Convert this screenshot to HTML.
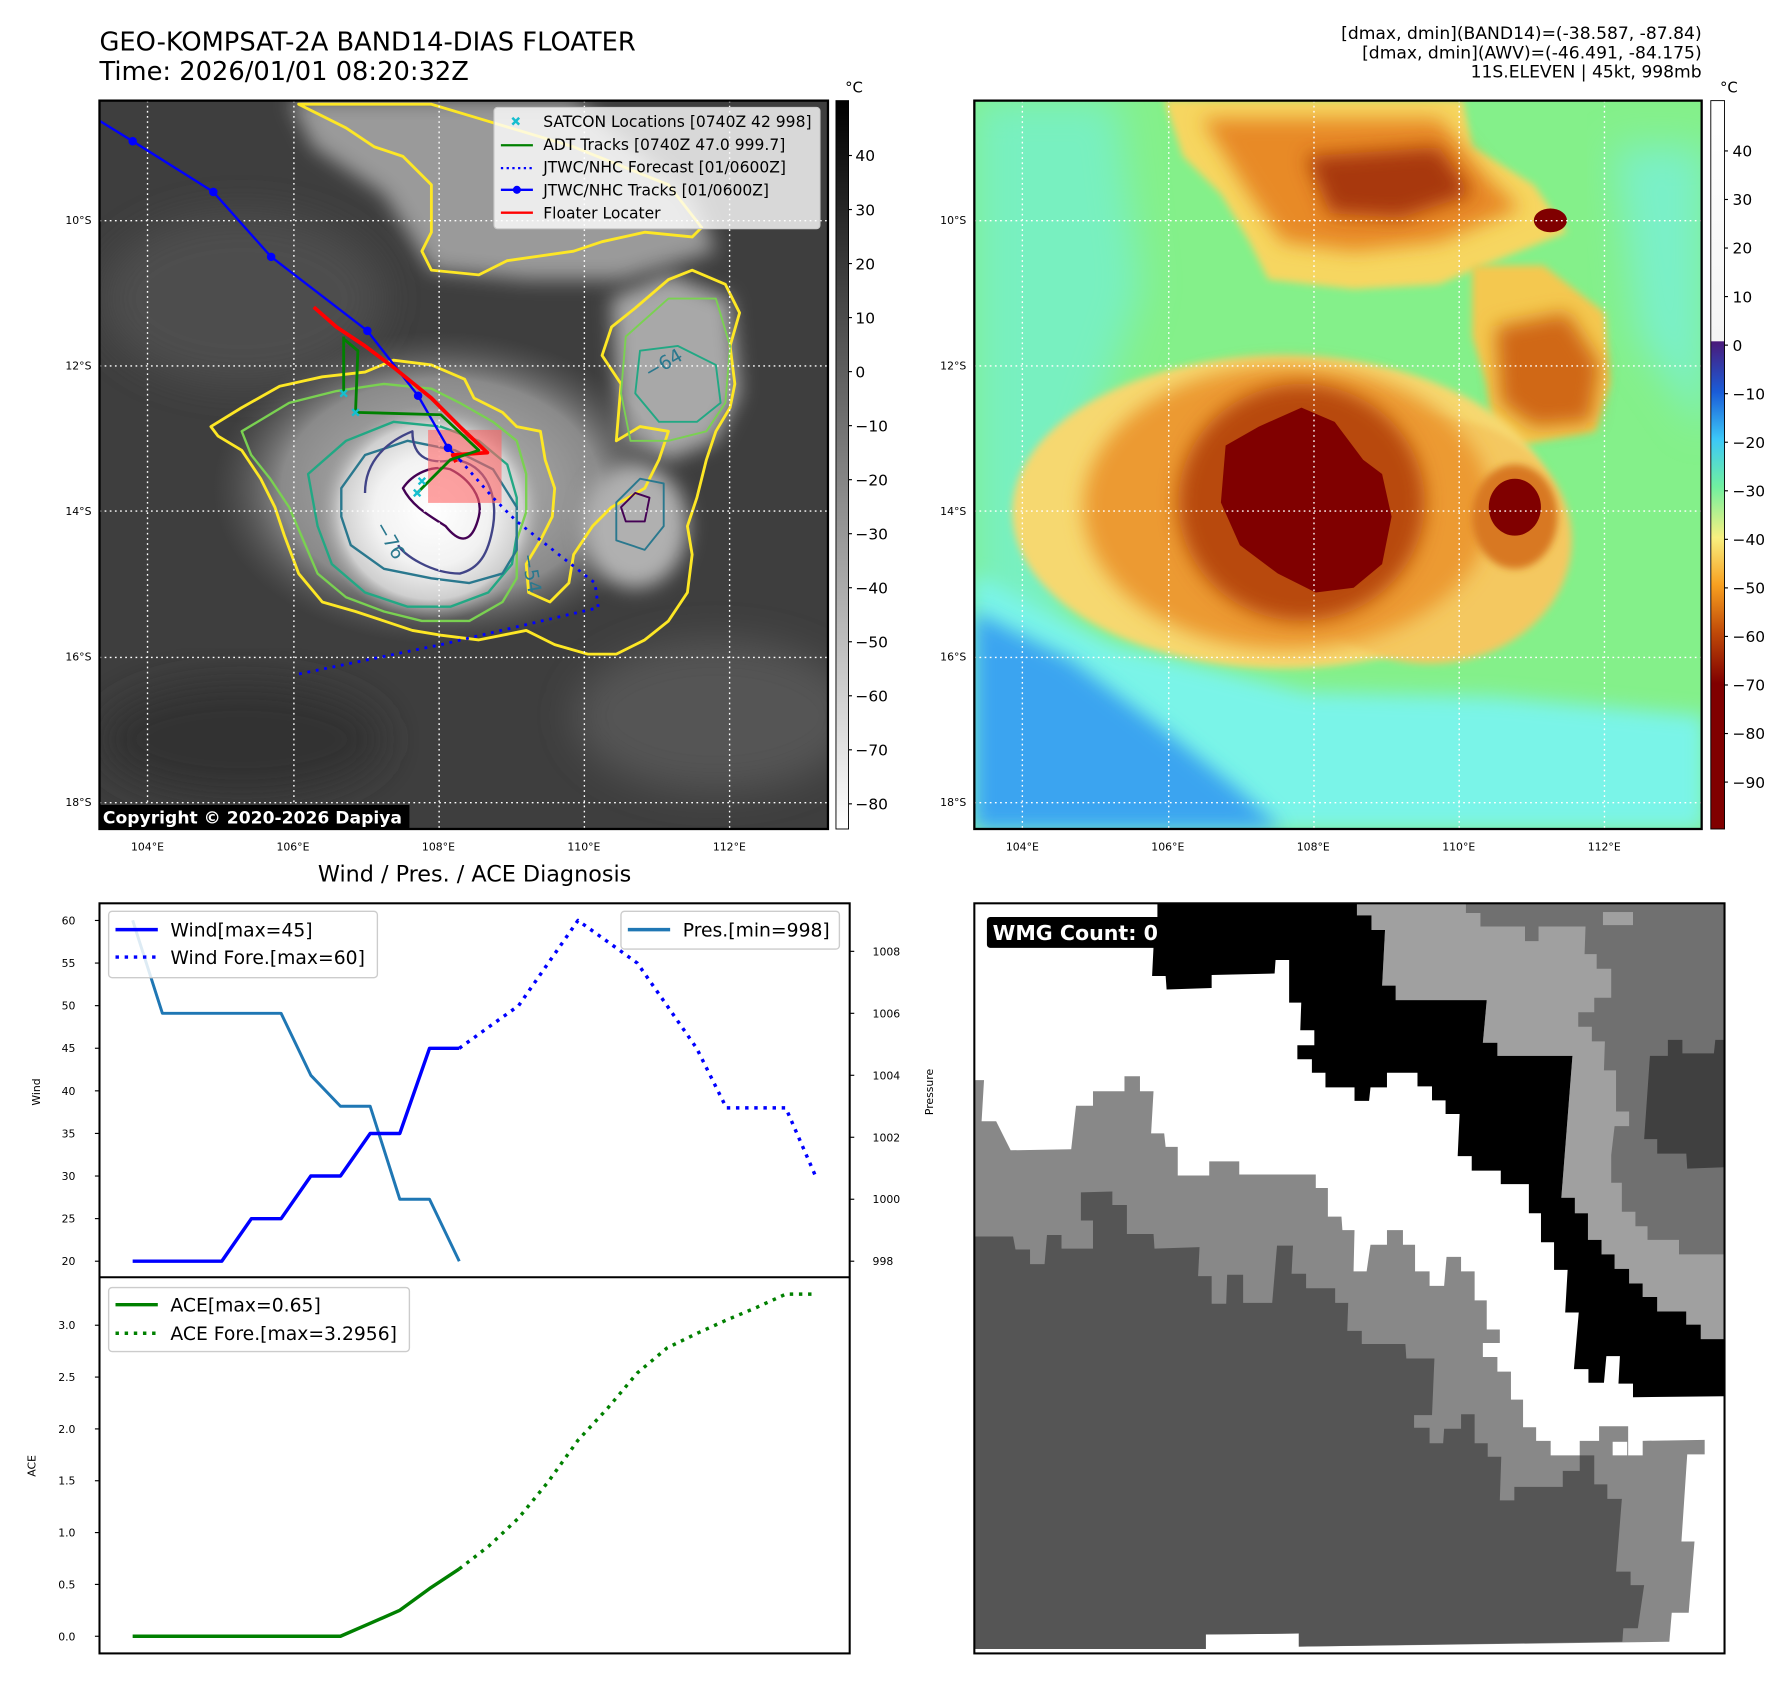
<!DOCTYPE html>
<html><head><meta charset="utf-8">
<style>
html,body{margin:0;padding:0;background:#fff;}
svg{display:block;font-family:"DejaVu Sans","Liberation Sans",sans-serif;}
</style></head>
<body>
<svg id="root" width="1792" height="1690" viewBox="0 0 1567 1478" preserveAspectRatio="none" xmlns="http://www.w3.org/2000/svg">
<defs>
  <linearGradient id="cbGray" x1="0" y1="0" x2="0" y2="1">
    <stop offset="0" stop-color="#000"/><stop offset="1" stop-color="#fff"/>
  </linearGradient>
  <linearGradient id="cbTemp" x1="0" y1="0" x2="0" y2="1">
    <stop offset="0" stop-color="#ffffff"/>
    <stop offset="0.33" stop-color="#f4f4f4"/>
    <stop offset="0.331" stop-color="#4a1a7a"/>
    <stop offset="0.40" stop-color="#1a5cd8"/>
    <stop offset="0.465" stop-color="#3cc8f8"/>
    <stop offset="0.53" stop-color="#70f0a0"/>
    <stop offset="0.60" stop-color="#f8f080"/>
    <stop offset="0.665" stop-color="#f8a020"/>
    <stop offset="0.73" stop-color="#c04a08"/>
    <stop offset="0.80" stop-color="#800000"/>
    <stop offset="1" stop-color="#800000"/>
  </linearGradient>
  <radialGradient id="coreGrad" cx="0.5" cy="0.5" r="0.5">
    <stop offset="0" stop-color="#ffffff"/><stop offset="0.5" stop-color="#f2f2f2"/><stop offset="0.8" stop-color="#cfcfcf"/><stop offset="1" stop-color="#9a9a9a" stop-opacity="0"/>
  </radialGradient>
  <radialGradient id="haloGrad" cx="0.5" cy="0.5" r="0.5">
    <stop offset="0" stop-color="#bdbdbd"/><stop offset="0.7" stop-color="#8a8a8a"/><stop offset="1" stop-color="#5a5a5a" stop-opacity="0"/>
  </radialGradient>
  <filter id="blur8" x="-20%" y="-20%" width="140%" height="140%"><feGaussianBlur stdDeviation="8"/></filter>
  <filter id="blur20" x="-30%" y="-30%" width="160%" height="160%"><feGaussianBlur stdDeviation="20"/></filter>
  <filter id="blur40" x="-30%" y="-30%" width="160%" height="160%"><feGaussianBlur stdDeviation="40"/></filter>
  <clipPath id="clipL"><rect x="87" y="88" width="637" height="637"/></clipPath>
  <clipPath id="clipR"><rect x="852" y="88" width="636" height="637"/></clipPath>
  <clipPath id="clipBR"><rect x="852" y="790" width="656" height="656"/></clipPath>
</defs>

<!-- Titles -->
<text x="87" y="44" font-size="22.5">GEO-KOMPSAT-2A BAND14-DIAS FLOATER</text>
<text x="87" y="70" font-size="22.5">Time: 2026/01/01 08:20:32Z</text>
<g font-size="15" text-anchor="end">
  <text x="1488" y="34">[dmax, dmin](BAND14)=(-38.587, -87.84)</text>
  <text x="1488" y="51">[dmax, dmin](AWV)=(-46.491, -84.175)</text>
  <text x="1488" y="68">11S.ELEVEN | 45kt, 998mb</text>
</g>

<!-- LEFT MAP -->
<g clip-path="url(#clipL)">
  <rect x="87" y="88" width="637" height="637" fill="#3e3e3e"/>
  <g transform="translate(87,87) scale(0.4146)">
    <ellipse cx="300" cy="420" rx="300" ry="180" fill="#4e4e4e" filter="url(#blur40)"/>
    <ellipse cx="1300" cy="1300" rx="300" ry="160" fill="#555" filter="url(#blur40)"/>
    <ellipse cx="300" cy="1350" rx="300" ry="120" fill="#333" filter="url(#blur40)"/>
    <polygon points="400,0 1000,0 1250,200 1300,320 1100,380 900,380 700,360 600,200 450,100" fill="#9a9a9a" filter="url(#blur20)"/>
    <polygon points="1080,420 1200,370 1330,420 1350,620 1300,720 1200,760 1100,720" fill="#a8a8a8" filter="url(#blur20)"/>
    <ellipse cx="720" cy="820" rx="480" ry="330" fill="url(#haloGrad)"/>
    <ellipse cx="700" cy="870" rx="240" ry="230" fill="url(#coreGrad)"/>
    <ellipse cx="1130" cy="900" rx="110" ry="130" fill="#b0b0b0" filter="url(#blur20)"/>
    <g fill="none" stroke-linejoin="round">
      <polygon stroke="#fde725" stroke-width="6" points="235,690 300,650 380,605 470,585 560,575 620,550 700,560 770,590 790,630 850,660 880,690 930,700 940,760 960,820 955,880 930,930 900,980 905,1040 950,1060 990,1020 1000,960 1040,900 1080,860 1150,820 1180,760 1200,700 1140,690 1090,720 1100,600 1060,540 1080,480 1130,440 1200,380 1250,360 1320,390 1350,450 1330,520 1340,600 1330,650 1300,700 1280,760 1260,840 1240,900 1250,960 1240,1040 1200,1100 1150,1140 1090,1170 1030,1170 960,1150 900,1120 800,1140 720,1130 660,1120 600,1100 540,1080 470,1060 420,1000 390,920 370,860 340,800 300,740 250,710"/>
      <polygon stroke="#fde725" stroke-width="6" points="420,10 460,30 520,60 580,100 640,120 700,180 700,280 680,320 700,360 800,370 860,340 1000,320 1060,300 1150,280 1250,290 1270,270 1200,180 1000,100 800,40 700,10"/>
      <polygon stroke="#7ad151" stroke-width="5" points="300,700 400,640 500,615 600,600 700,610 760,640 830,680 880,720 900,790 900,870 880,930 880,1010 850,1060 780,1100 680,1100 600,1080 520,1050 460,1000 430,930 400,860 360,800 320,750"/>
      <polygon stroke="#7ad151" stroke-width="4" points="1110,500 1200,420 1300,420 1330,520 1320,640 1280,700 1200,720 1120,720 1100,620"/>
      <polygon stroke="#22a884" stroke-width="5" points="440,790 520,720 620,680 720,690 800,720 860,770 880,840 880,920 870,980 820,1040 740,1070 650,1070 560,1040 490,980 460,900"/>
      <polygon stroke="#22a884" stroke-width="4" points="1140,530 1220,520 1300,560 1310,640 1260,680 1180,680 1130,620"/>
      <polygon stroke="#2a788e" stroke-width="5" points="510,820 560,750 650,720 750,740 830,780 880,860 880,950 850,1000 780,1020 700,1010 600,990 530,940 510,880"/>
      <polygon stroke="#2a788e" stroke-width="4" points="1090,850 1140,800 1190,810 1190,900 1150,950 1090,930"/>
      <path stroke="#414487" stroke-width="5" d="M560,830 C560,760 610,720 660,700 C660,760 700,770 750,760 C820,770 840,840 830,900 C820,960 800,990 760,1000 C700,1000 640,960 630,940"/>
      <path stroke="#440154" stroke-width="5" d="M640,820 C660,790 700,770 740,780 C780,800 810,840 800,880 C790,920 770,950 730,900 C700,880 660,860 640,820 Z"/>
      <polygon stroke="#440154" stroke-width="4" points="1100,860 1130,830 1160,840 1150,890 1110,890"/>
    </g>
    <g font-size="40" fill="#2a788e">
      <text x="580" y="900" transform="rotate(60 580 900)">−76</text>
      <text x="1160" y="590" transform="rotate(-30 1160 590)">−64</text>
      <text x="890" y="960" transform="rotate(80 890 960)">−54</text>
    </g>
  </g>
  <g stroke="#fff" stroke-width="1.2" stroke-dasharray="1.5,3">
    <line x1="129" y1="88" x2="129" y2="725"/><line x1="257" y1="88" x2="257" y2="725"/><line x1="384" y1="88" x2="384" y2="725"/><line x1="511" y1="88" x2="511" y2="725"/><line x1="638" y1="88" x2="638" y2="725"/>
    <line x1="87" y1="193" x2="724" y2="193"/><line x1="87" y1="320" x2="724" y2="320"/><line x1="87" y1="447" x2="724" y2="447"/><line x1="87" y1="575" x2="724" y2="575"/><line x1="87" y1="702" x2="724" y2="702"/>
  </g>
  <g transform="translate(87,87) scale(0.4146)" fill="none" stroke-linejoin="round">
    <rect x="693" y="697" width="155" height="154" fill="#ff6666" fill-opacity="0.6"/>
    <polyline stroke="#0000ff" stroke-width="6" stroke-dasharray="6,12" points="760,760 830,840 880,890 1045,1020 1052,1072 720,1150 420,1212"/>
    <polyline stroke="#0000ff" stroke-width="5" points="0,45 70,88 240,195 362,332 565,488 672,625 735,735 760,760"/>
    <g fill="#0000ff">
      <circle cx="70" cy="88" r="9"/><circle cx="240" cy="195" r="9"/><circle cx="362" cy="332" r="9"/><circle cx="565" cy="488" r="9"/><circle cx="672" cy="625" r="9"/><circle cx="735" cy="735" r="9"/>
    </g>
    <polyline stroke="#ff0000" stroke-width="8" points="452,438 500,480 560,520 620,565 700,630 760,690 818,745 745,750 752,765"/>
    <polyline stroke="#008000" stroke-width="6" points="515,500 515,620 515,505 545,530 540,660 720,665 800,740 740,760 670,830"/>
    <g stroke="#17becf" stroke-width="5">
      <path d="M508,613 l14,14 M522,613 l-14,14 M533,653 l14,14 M547,653 l-14,14 M673,798 l14,14 M687,798 l-14,14 M663,823 l14,14 M677,823 l-14,14"/>
    </g>
  </g>
  <g>
    <rect x="432" y="94" width="285" height="106" rx="3" fill="#fff" fill-opacity="0.8" stroke="#ccc"/>
    <g font-size="13.6" fill="#000">
      <text x="475" y="111">SATCON Locations [0740Z 42 998]</text>
      <text x="475" y="131">ADT Tracks [0740Z 47.0 999.7]</text>
      <text x="475" y="151">JTWC/NHC Forecast [01/0600Z]</text>
      <text x="475" y="171">JTWC/NHC Tracks [01/0600Z]</text>
      <text x="475" y="191">Floater Locater</text>
    </g>
    <path d="M448,103 l6,6 M454,103 l-6,6" stroke="#17becf" stroke-width="2.2"/>
    <line x1="438" y1="127" x2="466" y2="127" stroke="#008000" stroke-width="2"/>
    <line x1="438" y1="147" x2="466" y2="147" stroke="#0000ff" stroke-width="2" stroke-dasharray="2,3"/>
    <line x1="438" y1="166" x2="466" y2="166" stroke="#0000ff" stroke-width="2"/><circle cx="452" cy="166" r="3.5" fill="#0000ff"/>
    <line x1="438" y1="186" x2="466" y2="186" stroke="#ff0000" stroke-width="2"/>
  </g>
  <rect x="87" y="704" width="271" height="21" fill="#000"/>
  <text x="90" y="720" font-size="15" font-weight="bold" fill="#fff">Copyright © 2020-2026 Dapiya</text>
</g>
<rect x="87" y="88" width="637" height="637" fill="none" stroke="#000" stroke-width="2"/>

<rect x="731" y="88" width="11" height="637" fill="url(#cbGray)" stroke="#000" stroke-width="0.8"/>
<text x="739" y="81" font-size="13">°C</text>
<g id="cb1ticks" font-size="13.5"></g>

<!-- RIGHT MAP -->
<g clip-path="url(#clipR)">
  <rect x="852" y="88" width="636" height="637" fill="#84f08a"/>
  <g transform="translate(852,87) scale(0.4146)">
    <polygon points="0,0 300,0 350,400 250,700 200,1100 0,1100" fill="#78f0c0" filter="url(#blur40)"/>
    <polygon points="1350,100 1540,100 1540,700 1400,500" fill="#7af0c8" filter="url(#blur40)"/>
    <polygon points="0,1000 300,1150 700,1250 1100,1260 1540,1300 1540,1540 0,1540" fill="#7af4e8" filter="url(#blur20)"/>
    <polygon points="0,1080 200,1180 400,1330 550,1450 650,1540 0,1540" fill="#3aa4f0" filter="url(#blur20)"/>
    <polygon points="400,0 1030,0 1050,100 1180,180 1250,280 1100,340 980,390 800,400 620,380 580,300 520,200 440,120" fill="#f6d660" filter="url(#blur8)"/>
    <polygon points="480,40 980,40 1080,160 1150,230 980,300 800,320 650,300 580,200" fill="#e88a28" filter="url(#blur20)"/>
    <polygon points="700,120 980,100 1050,200 900,250 750,240" fill="#a83808" filter="url(#blur20)"/>
    <polygon points="1050,350 1200,350 1330,450 1340,600 1310,700 1200,720 1100,740 1080,600 1050,500" fill="#f4c850" filter="url(#blur8)"/>
    <polygon points="1100,480 1250,450 1320,560 1300,680 1180,690 1110,640" fill="#d06818" filter="url(#blur20)"/>
    <ellipse cx="650" cy="870" rx="570" ry="330" fill="#f6d870" filter="url(#blur8)"/>
    <ellipse cx="960" cy="930" rx="300" ry="260" fill="#f4c860" filter="url(#blur8)"/>
    <ellipse cx="660" cy="860" rx="430" ry="300" fill="#ec9a30" filter="url(#blur20)"/>
    <ellipse cx="690" cy="850" rx="260" ry="250" fill="#b84a10" filter="url(#blur20)"/>
    <polygon points="530,730 600,690 690,650 760,680 820,760 860,790 880,880 860,980 800,1030 720,1040 640,1000 560,940 520,850" fill="#800000"/>
    <ellipse cx="1140" cy="880" rx="90" ry="110" fill="#d87820" filter="url(#blur8)"/>
    <ellipse cx="1140" cy="860" rx="55" ry="60" fill="#800000"/>
    <ellipse cx="1215" cy="255" rx="35" ry="25" fill="#800000"/>
  </g>
  <g stroke="#fff" stroke-width="1.2" stroke-dasharray="1.5,3">
    <line x1="894" y1="88" x2="894" y2="725"/><line x1="1022" y1="88" x2="1022" y2="725"/><line x1="1149" y1="88" x2="1149" y2="725"/><line x1="1276" y1="88" x2="1276" y2="725"/><line x1="1403" y1="88" x2="1403" y2="725"/>
    <line x1="852" y1="193" x2="1488" y2="193"/><line x1="852" y1="320" x2="1488" y2="320"/><line x1="852" y1="447" x2="1488" y2="447"/><line x1="852" y1="575" x2="1488" y2="575"/><line x1="852" y1="702" x2="1488" y2="702"/>
  </g>
</g>
<rect x="852" y="88" width="636" height="637" fill="none" stroke="#000" stroke-width="2"/>
<rect x="1496" y="88" width="12" height="637" fill="url(#cbTemp)" stroke="#000" stroke-width="0.8"/>
<text x="1504" y="81" font-size="13">°C</text>
<g id="cb2ticks" font-size="13.5"></g>

<g id="mapticks" font-size="9.5"></g>

<!-- BOTTOM LEFT CHART -->
<text x="415" y="771" font-size="19.5" text-anchor="middle">Wind / Pres. / ACE Diagnosis</text>
<g id="chart"></g>
<rect x="87" y="790" width="656" height="656" fill="none" stroke="#000" stroke-width="1.8"/>
<line x1="87" y1="1117" x2="743" y2="1117" stroke="#000" stroke-width="1.8"/>
<text transform="translate(35,955) rotate(-90)" font-size="9.5" text-anchor="middle">Wind</text>
<text transform="translate(816,955) rotate(-90)" font-size="9.5" text-anchor="middle">Pressure</text>
<text transform="translate(31,1282) rotate(-90)" font-size="9.5" text-anchor="middle">ACE</text>

<g>
  <rect x="95" y="797" width="235" height="58" rx="3" fill="#fff" fill-opacity="0.85" stroke="#ccc" stroke-width="1.2"/>
  <line x1="101" y1="813" x2="138" y2="813" stroke="#0000ff" stroke-width="3"/>
  <line x1="101" y1="837" x2="138" y2="837" stroke="#0000ff" stroke-width="3" stroke-dasharray="3,5"/>
  <text x="149" y="819" font-size="16.4">Wind[max=45]</text>
  <text x="149" y="843" font-size="16.4">Wind Fore.[max=60]</text>
</g>
<g>
  <rect x="543" y="797" width="191" height="33" rx="3" fill="#fff" fill-opacity="0.85" stroke="#ccc" stroke-width="1.2"/>
  <line x1="549" y1="813" x2="586" y2="813" stroke="#1f77b4" stroke-width="3"/>
  <text x="597" y="819" font-size="16.4">Pres.[min=998]</text>
</g>
<g>
  <rect x="95" y="1126" width="263" height="56" rx="3" fill="#fff" fill-opacity="0.85" stroke="#ccc" stroke-width="1.2"/>
  <line x1="101" y1="1141" x2="138" y2="1141" stroke="#008000" stroke-width="3"/>
  <line x1="101" y1="1166" x2="138" y2="1166" stroke="#008000" stroke-width="3" stroke-dasharray="3,5"/>
  <text x="149" y="1147" font-size="16.4">ACE[max=0.65]</text>
  <text x="149" y="1172" font-size="16.4">ACE Fore.[max=3.2956]</text>
</g>

<!-- BOTTOM RIGHT WMG -->
<g clip-path="url(#clipBR)">
  <rect x="852" y="790" width="656" height="656" fill="#fff"/>
  <g transform="translate(852,790) scale(0.4235)">
    <polygon fill="#888" points="0,365 20,365 15,450 45,450 75,510 200,508 210,418 245,418 245,388 310,388 310,357 342,357 342,388 370,388 365,475 392,475 395,503 420,503 420,562 485,562 485,533 547,533 547,560 705,560 705,588 730,588 730,647 758,647 760,675 785,675 783,760 810,760 818,705 852,705 852,675 885,675 885,705 910,705 910,760 940,760 940,790 970,790 975,730 1005,730 1005,760 1033,760 1033,820 1058,820 1058,880 1085,880 1085,908 1050,908 1050,937 1080,937 1080,967 1108,967 1108,1025 1133,1025 1133,1082 1160,1082 1160,1110 1190,1110 1190,1140 1250,1140 1250,1110 1290,1110 1290,1080 1350,1080 1350,1140 1380,1140 1380,1110 1508,1108 1508,1138 1472,1138 1460,1318 1487,1318 1475,1465 1440,1465 1435,1525 670,1535 670,1508 478,1510 478,1540 0,1540"/>
    <rect x="1318" y="1112" width="30" height="28" fill="#fff"/>
    <polygon fill="#555" points="0,688 80,688 85,715 115,715 115,745 145,745 150,685 180,685 180,713 245,713 245,655 220,655 220,597 285,595 285,623 315,623 315,683 370,683 372,713 465,710 462,770 490,770 490,827 520,827 522,767 555,767 555,825 615,825 625,707 658,707 655,765 685,765 685,795 745,795 745,825 772,825 770,883 800,883 800,910 890,910 892,940 950,940 945,1057 908,1057 908,1083 940,1083 940,1115 968,1115 970,1085 1005,1085 1005,1055 1033,1055 1033,1115 1060,1115 1060,1143 1088,1143 1085,1233 1115,1233 1115,1205 1215,1205 1215,1172 1250,1172 1250,1140 1280,1140 1280,1200 1307,1200 1307,1230 1337,1230 1325,1380 1355,1380 1355,1408 1383,1408 1370,1497 1340,1497 1338,1525 670,1535 670,1508 478,1510 478,1540 0,1540"/>
    <polygon fill="#a0a0a0" points="790,0 1549,0 1549,900 1500,900 1500,870 1470,870 1470,843 1410,843 1410,813 1380,813 1380,785 1352,785 1352,755 1322,755 1322,725 1295,725 1295,695 1267,695 1267,640 1240,640 1240,608 1212,608 1235,315 1080,315 1080,288 1050,288 1058,200 870,200 870,170 842,170 848,55 820,55 820,25 790,25"/>
    <polygon fill="#707070" points="1015,0 1549,0 1549,725 1455,725 1455,695 1390,695 1390,667 1365,667 1365,637 1337,637 1337,577 1315,577 1315,520 1322,460 1352,460 1352,430 1325,430 1325,345 1300,345 1302,285 1275,285 1275,255 1247,255 1247,225 1280,225 1280,195 1315,195 1315,135 1285,135 1285,105 1260,105 1262,48 1165,48 1165,78 1137,78 1137,48 1045,48 1045,20 1015,20"/>
    <rect x="1298" y="18" width="62" height="27" fill="#a0a0a0"/>
    <polygon fill="#404040" points="1395,315 1432,315 1432,282 1462,282 1462,310 1527,310 1530,282 1549,282 1549,545 1472,548 1470,517 1410,517 1410,487 1383,487"/>
    <polygon fill="#000" points="378,0 790,0 790,25 820,25 820,55 848,55 842,170 870,170 870,200 1058,200 1050,288 1080,288 1080,315 1235,315 1212,608 1240,608 1240,640 1267,640 1267,695 1295,695 1295,725 1322,725 1322,755 1352,755 1352,785 1380,785 1380,813 1410,813 1410,843 1470,843 1470,870 1500,870 1500,900 1549,900 1549,1018 1360,1020 1360,992 1330,992 1333,935 1305,935 1300,990 1268,990 1268,962 1238,962 1248,845 1220,845 1225,757 1197,757 1197,700 1170,700 1170,640 1145,640 1145,580 1087,580 1087,552 1027,552 1027,522 998,522 1002,435 973,435 973,407 945,407 945,378 915,378 915,350 852,350 852,380 818,380 815,408 785,408 785,380 725,380 725,350 697,350 697,322 667,322 667,293 702,293 702,262 673,262 675,205 650,205 650,117 622,117 620,145 490,148 490,175 397,178 395,150 367,150 370,90 378,90"/>
  </g>
  <rect x="863" y="802" width="152" height="27" rx="3" fill="#000"/>
  <text x="868" y="822" font-size="18" font-weight="bold" fill="#fff">WMG Count: 0</text>
</g>
<rect x="852" y="790" width="656" height="656" fill="none" stroke="#000" stroke-width="1.8"/>
</svg>

<script>
const steps = [0,1,2,3,4,5,6,7,8,9,10,11,12,13,14,15,16,17,18,19,20,21,22,23];
const windObs = [20,20,20,20,25,25,30,30,35,35,45,45];
const windFore = [45,47.5,50,55,60,57.5,55,50,45,38,38,38,30];
const presObs = [1009,1006,1006,1006,1006,1006,1004,1003,1003,1000,1000,998];
const aceObs = [0,0,0,0,0,0,0,0,0.125,0.25,0.46,0.65];
const aceFore = [0.65,0.87,1.14,1.49,1.89,2.2,2.54,2.78,2.92,3.05,3.17,3.3,3.3];
const windTicks = [20,25,30,35,40,45,50,55,60];
const presTicks = [998,1000,1002,1004,1006,1008];
const aceTicks = [0.0,0.5,1.0,1.5,2.0,2.5,3.0];
const grayCbTicks = [40,30,20,10,0,-10,-20,-30,-40,-50,-60,-70,-80];
const tempCbTicks = [40,30,20,10,0,-10,-20,-30,-40,-50,-60,-70,-80,-90];
const lonTicks = [104,106,108,110,112];
const latTicks = [10,12,14,16,18];

const NS = 'http://www.w3.org/2000/svg';
function mk(parent, tag, attrs){ const e=document.createElementNS(NS,tag); for(const k in attrs) e.setAttribute(k,attrs[k]); parent.appendChild(e); return e; }
const fmtMinus = v => (v<0?'\u2212'+Math.abs(v):String(v));

const xIdx = i => 116 + i*25.96;
const yWind = v => 1103 - (v-20)*7.45;
const yPres = v => 1103 - (v-998)*27.1;
const yAce = v => 1431 - v*90.67;

const chart = document.getElementById('chart');
function line(pts, color, w, dash, name){
  const p = mk(chart,'polyline',{points:pts.map(q=>q[0].toFixed(1)+','+q[1].toFixed(1)).join(' '),fill:'none',stroke:color,'stroke-width':w,'stroke-linejoin':'round'});
  if(dash) p.setAttribute('stroke-dasharray',dash);
  
  
}
line(presObs.map((v,i)=>[xIdx(steps[i]),yPres(v)]), '#1f77b4', 2.6, null, 'pressure-line');
line(windObs.map((v,i)=>[xIdx(steps[i]),yWind(v)]), '#0000ff', 3, null, 'wind-line');
line(windFore.map((v,i)=>[xIdx(steps[i+11]),yWind(v)]), '#0000ff', 3, '3,5', 'wind-forecast-line');
line(aceObs.map((v,i)=>[xIdx(steps[i]),yAce(v)]), '#008000', 3, null, 'ace-line');
line(aceFore.map((v,i)=>[xIdx(steps[i+11]),yAce(v)]), '#008000', 3, '3,5', 'ace-forecast-line');

windTicks.forEach(v=>{
  const y=yWind(v);
  const t=mk(chart,'line',{x1:83,y1:y,x2:87,y2:y,stroke:'#000','stroke-width':1});
   
  const l=mk(chart,'text',{x:66,y:y+3.5,'font-size':9.5,'text-anchor':'end'}); l.textContent=v;
   
});
presTicks.forEach(v=>{
  const y=yPres(v);
  const t=mk(chart,'line',{x1:743,y1:y,x2:747,y2:y,stroke:'#000','stroke-width':1});
   
  const l=mk(chart,'text',{x:763,y:y+3.5,'font-size':9.5}); l.textContent=v;
   
});
aceTicks.forEach(v=>{
  const y=yAce(v);
  const t=mk(chart,'line',{x1:83,y1:y,x2:87,y2:y,stroke:'#000','stroke-width':1});
   
  const l=mk(chart,'text',{x:66,y:y+3.5,'font-size':9.5,'text-anchor':'end'}); l.textContent=v.toFixed(1);
   
});

const cb1=document.getElementById('cb1ticks');
grayCbTicks.forEach(v=>{
  const y = 136 + (40-v)*4.725;
  mk(cb1,'line',{x1:742,y1:y,x2:745,y2:y,stroke:'#000','stroke-width':1});
  const l=mk(cb1,'text',{x:748,y:y+5}); l.textContent=fmtMinus(v);
   
});
const cb2=document.getElementById('cb2ticks');
tempCbTicks.forEach(v=>{
  const y = 132 + (40-v)*4.246;
  mk(cb2,'line',{x1:1508,y1:y,x2:1511,y2:y,stroke:'#000','stroke-width':1});
  const l=mk(cb2,'text',{x:1515,y:y+5}); l.textContent=fmtMinus(v);
   
});

const mt=document.getElementById('mapticks');
const lonX = lon => 129 + (lon-104)*63.6;
const latY = lat => 193 + (lat-10)*63.6;
[0,765].forEach(off=>{
  lonTicks.forEach(lon=>{
    const l=mk(mt,'text',{x:lonX(lon)+off,y:744,'text-anchor':'middle'}); l.textContent=lon+'°E';
     
  });
  latTicks.forEach(lat=>{
    const l=mk(mt,'text',{x:80+off,y:latY(lat)+3,'text-anchor':'end'}); l.textContent=lat+'°S';
     
  });
});
</script>
</body></html>
